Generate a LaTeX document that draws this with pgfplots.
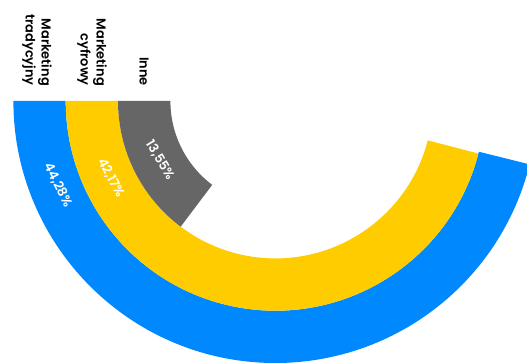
\documentclass[border=0pt]{standalone}
\usepackage{pgfplots}
\pgfplotsset{compat=1.18}
\usepackage{fontspec}
\setmainfont{Poppins}[BoldFont={Poppins SemiBold}]
\definecolor{cblue}{HTML}{0088FF}
\definecolor{cyellow}{HTML}{FFCC00}
\definecolor{cgray}{HTML}{666666}
% category, value (%), sweep angle (deg), inner radius, outer radius
% Marketing tradycyjny 44.28 166   209.7 262
% Marketing cyfrowy    42.17 165.5 157.4 209.7
% Inne                 13.55 53    105   157.4
\begin{document}
\begin{tikzpicture}
\begin{axis}[x=1bp,y=1bp,xmin=0,xmax=527,ymin=0,ymax=363,hide axis,clip=true,anchor=origin,at={(0,0)}]
\fill[cblue] (axis cs:275.4,262) ++(180:262bp) arc[start angle=180,end angle=346,radius=262bp] -- ++(346:-52.3bp) arc[start angle=346,end angle=180,radius=209.7bp] -- cycle;
\fill[cyellow] (axis cs:275.4,262) ++(180:209.7bp) arc[start angle=180,end angle=345.5,radius=209.7bp] -- ++(345.5:-52.3bp) arc[start angle=345.5,end angle=180,radius=157.4bp] -- cycle;
\fill[cgray] (axis cs:275.4,262) ++(180:157.4bp) arc[start angle=180,end angle=233,radius=157.4bp] -- ++(233:-52.4bp) arc[start angle=233,end angle=180,radius=105bp] -- cycle;
\tikzset{cat/.style={rotate=-90,anchor=east,align=right,inner sep=0pt,font=\bfseries\fontsize{13}{16}\selectfont}}
\node[cat] at (axis cs:37,277) {Marketing\\tradycyjny};
\node[cat] at (axis cs:92,277) {Marketing\\cyfrowy};
\node[cat] at (axis cs:144,277) {Inne};
\tikzset{pct/.style={inner sep=0pt,text=white,font=\bfseries\fontsize{13}{15}\selectfont}}
\node[pct,rotate=-63] at (axis cs:58,178) {44,28\%};
\node[pct,rotate=-62] at (axis cs:111,185) {42,17\%};
\node[pct,rotate=-59] at (axis cs:160,203) {13,55\%};
\end{axis}
\pgfresetboundingbox
\path (0,0) rectangle (527bp,363bp);
\end{tikzpicture}
\end{document}
